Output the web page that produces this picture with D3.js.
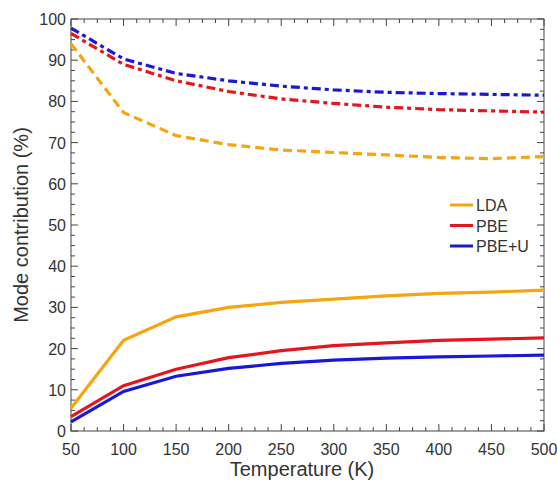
<!DOCTYPE html>
<html lang="en">
<head>
  <meta charset="utf-8">
  <title>Mode contribution</title>
  <script src="https://cdn.jsdelivr.net/npm/d3@7"></script>
  <style>
    body { margin: 0; background: #fff; }
    svg text { font-family: "Liberation Sans", Arial, sans-serif; fill: #333; }
  </style>
</head>
<body>
<svg id="chart" width="557" height="483"></svg>
<script>
  // temperatures (K)
  var temps = [50, 100, 150, 200, 250, 300, 350, 400, 450, 500];
  // lower (solid) curves
  var ldaLow  = [5.5, 22.0, 27.7, 30.0, 31.2, 32.0, 32.8, 33.4, 33.7, 34.2];
  var pbeLow  = [3.5, 11.0, 15.0, 17.8, 19.5, 20.7, 21.4, 22.0, 22.3, 22.6];
  var pbeuLow = [2.2, 9.6, 13.3, 15.2, 16.4, 17.2, 17.7, 18.0, 18.2, 18.4];
  // upper (dashed) curves
  var ldaHigh  = [94.0, 77.3, 71.7, 69.5, 68.2, 67.6, 67.0, 66.4, 66.1, 66.6];
  var pbeHigh  = [96.5, 89.0, 85.0, 82.4, 80.6, 79.5, 78.6, 78.0, 77.7, 77.4];
  var pbeuHigh = [97.8, 90.3, 86.8, 85.0, 83.7, 82.8, 82.2, 81.9, 81.7, 81.5];

  var names = ["LDA", "PBE", "PBE+U"];
  var colors = ["#f7a50f", "#e8141c", "#1818d8"];
  var xTicks = [50, 100, 150, 200, 250, 300, 350, 400, 450, 500];
  var yTicks = [0, 10, 20, 30, 40, 50, 60, 70, 80, 90, 100];

  var svg = d3.select("#chart");
  var margin = {left: 71, top: 19, right: 13, bottom: 52};
  var W = 557, H = 483;
  var x = d3.scaleLinear().domain([50, 500]).range([margin.left, W - margin.right]);
  var y = d3.scaleLinear().domain([0, 100]).range([H - margin.bottom, margin.top]);

  var x0 = x.range()[0], x1 = x.range()[1], y0 = y.range()[0], y1 = y.range()[1];

  // ticks (inward, on all four sides)
  var g = svg.append("g").attr("stroke", "#444").attr("stroke-width", 1);
  var xMinor = d3.range(50, 500.1, 12.5);
  var yMinor = d3.range(0, 100.1, 2.5);
  xMinor.forEach(function (v) {
    var len = (v % 50 === 0) ? 7 : 4;
    g.append("line").attr("x1", x(v)).attr("x2", x(v)).attr("y1", y0).attr("y2", y0 - len);
    g.append("line").attr("x1", x(v)).attr("x2", x(v)).attr("y1", y1).attr("y2", y1 + len);
  });
  yMinor.forEach(function (v) {
    var len = (v % 10 === 0) ? 7 : 4;
    g.append("line").attr("y1", y(v)).attr("y2", y(v)).attr("x1", x0).attr("x2", x0 + len);
    g.append("line").attr("y1", y(v)).attr("y2", y(v)).attr("x1", x1).attr("x2", x1 - len);
  });
  svg.append("rect").attr("x", x0).attr("y", y1).attr("width", x1 - x0).attr("height", y0 - y1)
    .attr("fill", "none").attr("stroke", "#444").attr("stroke-width", 1);

  // tick labels
  svg.selectAll(".xl").data(xTicks).enter().append("text")
    .attr("x", function (d) { return x(d); }).attr("y", y0 + 24)
    .attr("text-anchor", "middle").attr("font-size", 16).text(function (d) { return d; });
  svg.selectAll(".yl").data(yTicks).enter().append("text")
    .attr("x", x0 - 5).attr("y", function (d) { return y(d) + 6; })
    .attr("text-anchor", "end").attr("font-size", 16).text(function (d) { return d; });

  // axis titles
  svg.append("text").attr("x", 302).attr("y", 476)
    .attr("text-anchor", "middle").attr("font-size", 20).text("Temperature (K)");
  svg.append("text").attr("transform", "translate(28," + ((y0 + y1) / 2) + ") rotate(-90)")
    .attr("text-anchor", "middle").attr("font-size", 20).text("Mode contribution (%)");

  var line = d3.line().x(function (d, i) { return x(temps[i]); }).y(function (d) { return y(d); });

  var lows = [ldaLow, pbeLow, pbeuLow];
  var highs = [ldaHigh, pbeHigh, pbeuHigh];
  var dashes = ["9,5", "9,4,4,4", "9,4,4,4"];

  highs.forEach(function (s, i) {
    svg.append("path").attr("d", line(s)).attr("fill", "none")
      .attr("stroke", colors[i]).attr("stroke-width", 3.2)
      .attr("stroke-dasharray", dashes[i]);
  });
  lows.forEach(function (s, i) {
    svg.append("path").attr("d", line(s)).attr("fill", "none")
      .attr("stroke", colors[i]).attr("stroke-width", 3.2);
  });

  // legend
  var lg = svg.append("g");
  names.forEach(function (n, i) {
    var yy = 205 + i * 20.5;
    lg.append("line").attr("x1", 450).attr("x2", 473).attr("y1", yy).attr("y2", yy)
      .attr("stroke", colors[i]).attr("stroke-width", 3);
    lg.append("text").attr("x", 476).attr("y", yy + 6).attr("font-size", 16).text(n);
  });
</script>
</body>
</html>
